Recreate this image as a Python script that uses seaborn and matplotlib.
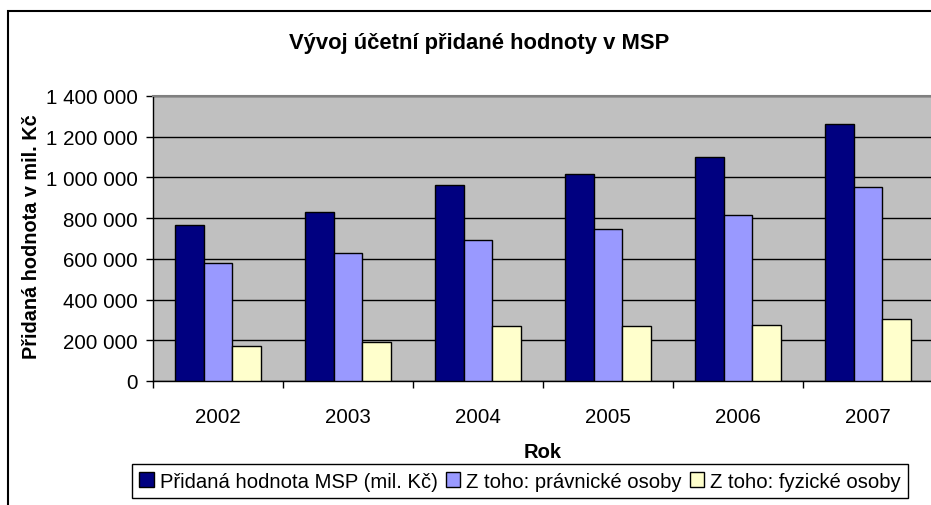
import pandas as pd
import matplotlib.pyplot as plt
import seaborn as sns
from matplotlib.ticker import FuncFormatter, FixedLocator
from matplotlib.patches import Rectangle

roky = ['2002', '2003', '2004', '2005', '2006', '2007']
serie = ['Přidaná hodnota MSP (mil. Kč)', 'Z toho: právnické osoby', 'Z toho: fyzické osoby']
pridana_hodnota = [764000, 831000, 964000, 1018000, 1101000, 1262000]
pravnicke = [582000, 629000, 692000, 747000, 816000, 955000]
fyzicke = [174000, 193000, 270000, 270000, 277000, 305000]
barvy = ['#000080', '#9999FF', '#FFFFCC']

df = pd.DataFrame({
    'rok': roky * 3,
    'serie': [serie[0]] * 6 + [serie[1]] * 6 + [serie[2]] * 6,
    'hodnota': pridana_hodnota + pravnicke + fyzicke,
})

sns.set_style('white')
plt.rcParams['font.family'] = ['Liberation Sans', 'DejaVu Sans']
plt.rcParams['text.color'] = 'black'
plt.rcParams['axes.labelcolor'] = 'black'
plt.rcParams['xtick.color'] = 'black'
plt.rcParams['ytick.color'] = 'black'

fig = plt.figure(figsize=(9.31, 5.06), dpi=100)
ax = fig.add_axes([153 / 931, 1 - 382 / 506, 780 / 931, 285 / 506])
ax.set_facecolor('#C0C0C0')

sns.barplot(data=df, x='rok', y='hodnota', hue='serie', hue_order=serie, order=roky,
            palette=barvy, width=0.667, gap=0, edgecolor='black', linewidth=1,
            saturation=1, ax=ax, legend=True, zorder=3)

ax.set_ylim(0, 1400000)
ax.set_xlim(-0.5, 5.5)
ax.set_yticks(range(0, 1400001, 200000))
ax.yaxis.set_major_formatter(FuncFormatter(lambda v, p: f'{int(v):,}'.replace(',', ' ')))
ax.grid(axis='y', color='black', linewidth=1, zorder=0)
ax.set_axisbelow(True)

ax.tick_params(axis='y', direction='out', length=5, width=1, color='black',
               labelsize=14.8, labelcolor='black', pad=6, left=True)
ax.tick_params(axis='x', which='major', length=0, labelsize=14.8, labelcolor='black', pad=19)
ax.xaxis.set_minor_locator(FixedLocator([i - 0.5 for i in range(7)]))
ax.tick_params(axis='x', which='minor', direction='out', length=5, width=1,
               color='black', bottom=True)

for s in ['left', 'bottom']:
    ax.spines[s].set_color('black')
    ax.spines[s].set_linewidth(1)
ax.spines['top'].set_color('#808080')
ax.spines['top'].set_linewidth(1.5)
ax.spines['right'].set_visible(False)

ax.set_xlabel('Rok', fontsize=14.5, fontweight='bold', color='black')
ax.xaxis.set_label_coords(0.5, -0.215)
ax.set_ylabel('Přidaná hodnota v mil. Kč', fontsize=14.3, fontweight='bold', color='black')
ax.yaxis.set_label_coords(-0.144, 0.51)

fig.text(479 / 931, 1 - 44 / 506, 'Vývoj účetní přidané hodnoty v MSP',
         fontsize=15.8, fontweight='bold', ha='center', va='center', color='black')

handles, labels = ax.get_legend_handles_labels()
ax.get_legend().remove()
leg = fig.legend(handles, labels, loc='center', bbox_to_anchor=(520 / 931, 1 - 482 / 506),
                 ncol=3, fontsize=14.6, frameon=True, fancybox=False, framealpha=1,
                 handlelength=0.7, handleheight=0.7, handletextpad=0.3,
                 columnspacing=0.4, borderpad=0.35, borderaxespad=0)
leg.get_frame().set_edgecolor('black')
leg.get_frame().set_linewidth(1)
for t in leg.get_texts():
    t.set_color('black')

fig.patches.append(Rectangle((8 / 931, -0.05), 1.1, 1 - 12 / 506 + 0.05,
                             transform=fig.transFigure, fill=False,
                             edgecolor='black', linewidth=1.5))

fig.savefig('out.png', dpi=100)
